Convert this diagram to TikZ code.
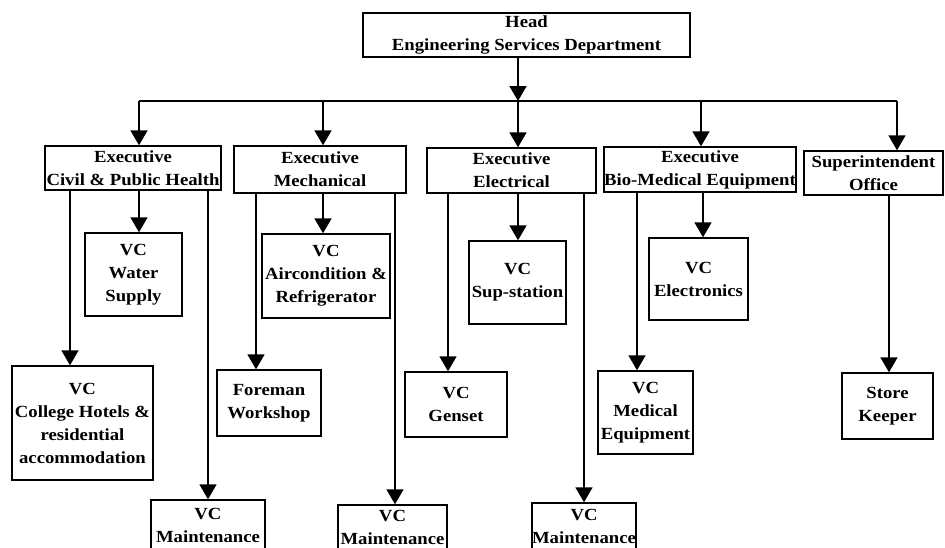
\documentclass[tikz,border=0pt]{standalone}
\usepackage{fontspec}
\setmainfont{Liberation Serif}[FakeStretch=1.1]
\usetikzlibrary{arrows.meta}
\begin{document}
\begin{tikzpicture}[x=1pt,y=-1pt,
  box/.style={draw, line width=1.4pt, inner sep=0pt, align=center,
    font=\fontsize{17}{23}\selectfont\bfseries},
  arr/.style={line width=1.6pt, -{Triangle[width=17pt,length=15pt]}},
  link/.style={line width=1.6pt}]
\clip (0,0) rectangle (945,547);

% head of department
\node[box, minimum width=327, minimum height=44] (head) at (526.5,35)
  {Head\\Engineering Services Department};

% executives
\node[box, minimum width=176, minimum height=44] (civ)  at (133,168)   {Executive\\Civil \& Public Health};
\node[box, minimum width=172, minimum height=47] (mech) at (320,169.5) {Executive\\Mechanical};
\node[box, minimum width=169, minimum height=45] (elec) at (511.5,170.5) {Executive\\Electrical};
\node[box, minimum width=190, minimum height=45] (bio)  at (700,169.5) {Executive\\Bio-Medical Equipment};
\node[box, minimum width=139, minimum height=44] (supt) at (873.5,173) {Superintendent\\Office};

% civil & public health
\node[box, minimum width=141, minimum height=114] (hot) at (82.5,423)
  {VC\\College Hotels \&\\residential\\accommodation};
\node[box, minimum width=97, minimum height=83] (wat) at (133.5,274.5) {VC\\Water\\Supply};
\node[box, minimum width=114, minimum height=50] (m1) at (208,525) {VC\\Maintenance};

% mechanical
\node[box, minimum width=104, minimum height=66] (fore) at (269,403) {Foreman\\Workshop};
\node[box, minimum width=128, minimum height=84] (air) at (326,276) {VC\\Aircondition \&\\Refrigerator};
\node[box, minimum width=109, minimum height=45] (m2) at (392.5,527.5) {VC\\Maintenance};

% electrical
\node[box, minimum width=102, minimum height=65] (gen) at (456,404.5) {VC\\Genset};
\node[box, minimum width=97, minimum height=83] (subs) at (517.5,282.5) {VC\\Sup-station};
\node[box, minimum width=102, minimum height=47] (m3) at (584,526.5) {VC\\Maintenance};

% bio-medical
\node[box, minimum width=95, minimum height=83] (med) at (645.5,412.5) {VC\\Medical\\Equipment};
\node[box, minimum width=99, minimum height=82] (elx) at (698.5,279) {VC\\Electronics};

% superintendent
\node[box, minimum width=91, minimum height=66] (store) at (887.5,406) {Store\\Keeper};

% distribution bus
\coordinate (bl) at (139,101);
\coordinate (br) at (897,101);
\coordinate (bj) at (518,101);
\coordinate (b2) at (323,101);
\coordinate (b4) at (701,101);
\draw[link] (bl) -- (br);
\draw[arr] (head.south -| bj) -- (bj);
\draw[arr] (bl) -- (civ.north -| bl);
\draw[arr] (b2) -- (mech.north -| b2);
\draw[arr] (bj) -- (elec.north -| bj);
\draw[arr] (b4) -- (bio.north -| b4);
\draw[arr] (br) -- (supt.north -| br);

% drop lines
\coordinate (x1) at (70,0);
\coordinate (x2) at (139,0);
\coordinate (x3) at (208,0);
\coordinate (x4) at (256,0);
\coordinate (x5) at (323,0);
\coordinate (x6) at (395,0);
\coordinate (x7) at (448,0);
\coordinate (x8) at (518,0);
\coordinate (x9) at (584,0);
\coordinate (x10) at (637,0);
\coordinate (x11) at (703,0);
\coordinate (x12) at (889,0);
\draw[arr] (civ.south -| x1) -- (hot.north -| x1);
\draw[arr] (civ.south -| x2) -- (wat.north -| x2);
\draw[arr] (civ.south -| x3) -- (m1.north -| x3);
\draw[arr] (mech.south -| x4) -- (fore.north -| x4);
\draw[arr] (mech.south -| x5) -- (air.north -| x5);
\draw[arr] (mech.south -| x6) -- (m2.north -| x6);
\draw[arr] (elec.south -| x7) -- (gen.north -| x7);
\draw[arr] (elec.south -| x8) -- (subs.north -| x8);
\draw[arr] (elec.south -| x9) -- (m3.north -| x9);
\draw[arr] (bio.south -| x10) -- (med.north -| x10);
\draw[arr] (bio.south -| x11) -- (elx.north -| x11);
\draw[arr] (supt.south -| x12) -- (store.north -| x12);
\end{tikzpicture}
\end{document}
